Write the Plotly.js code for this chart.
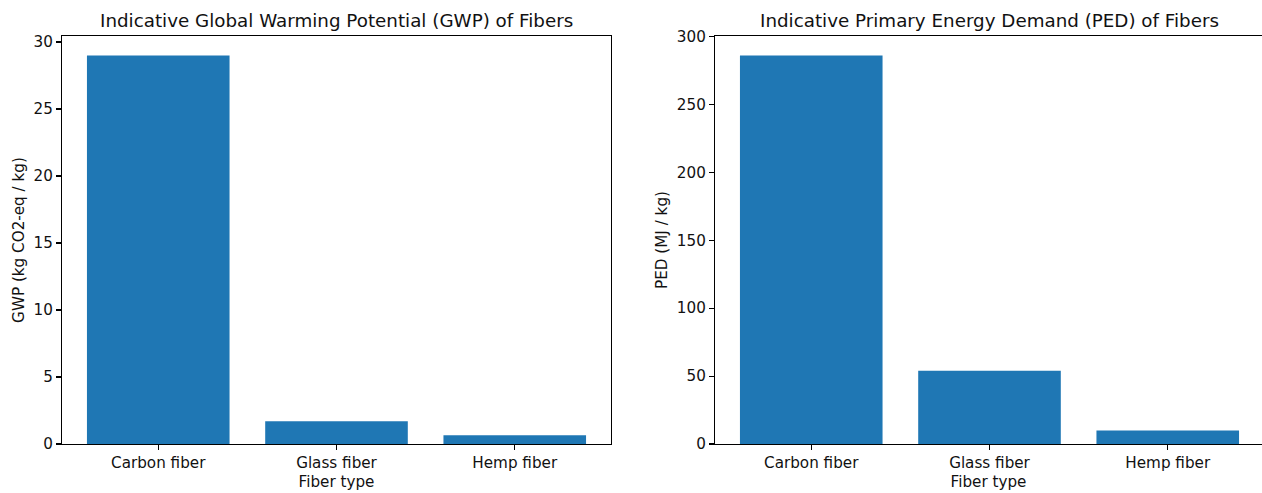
<!DOCTYPE html>
<html>
<head>
<meta charset="utf-8">
<script src="https://cdn.plot.ly/plotly-3.0.1.min.js"></script>
<style>html,body{margin:0;padding:0;background:#fff;}#chart{width:1262px;height:493px;}</style>
</head>
<body>
<div id="chart"></div>
<script>
const fiberTypes = ["Carbon fiber", "Glass fiber", "Hemp fiber"];
const gwpValues = [29.0, 1.7, 0.65];
const pedValues = [286, 54, 10];
const gwpTicks = [0, 5, 10, 15, 20, 25, 30];
const pedTicks = [0, 50, 100, 150, 200, 250, 300];

const W = 1262, H = 493;
const font = "DejaVu Sans, sans-serif";
const barColor = "#1f77b4";
const txt = "#111";
const fs = 15.2;

const traces = [
  {type: "bar", x: fiberTypes, y: gwpValues, width: 0.8, marker: {color: barColor}, xaxis: "x", yaxis: "y", hoverinfo: "x+y"},
  {type: "bar", x: fiberTypes, y: pedValues, width: 0.8, marker: {color: barColor}, xaxis: "x2", yaxis: "y2", hoverinfo: "x+y"}
];

const yDom = [1 - 444 / H, 1 - 36 / H];
const axCommon = {
  showline: true, linecolor: "#000", linewidth: 1.1,
  ticks: "outside", ticklen: 5, tickwidth: 1.1, tickcolor: "#000",
  showgrid: false, zeroline: false, fixedrange: true,
  tickfont: {family: font, size: fs, color: txt}
};

const layout = {
  width: W, height: H,
  margin: {l: 0, r: 0, t: 0, b: 0},
  paper_bgcolor: "#fff", plot_bgcolor: "#fff",
  showlegend: false,
  font: {family: font, color: txt},
  xaxis: Object.assign({}, axCommon, {
    domain: [62 / W, 611 / W], anchor: "y", type: "category",
    range: [-0.54, 2.54], mirror: true,
    title: {text: "Fiber type", font: {family: font, size: fs, color: txt}, standoff: 5}
  }),
  yaxis: Object.assign({}, axCommon, {
    domain: yDom, anchor: "x", range: [0, 30.45], tickvals: gwpTicks, mirror: true,
    title: {text: "GWP (kg CO2-eq / kg)", font: {family: font, size: fs, color: txt}, standoff: 5}
  }),
  xaxis2: Object.assign({}, axCommon, {
    domain: [715 / W, 1], anchor: "y2", type: "category",
    range: [-0.54, 2.54 - 3.08 * (2 / 549)], mirror: true,
    title: {text: "Fiber type", font: {family: font, size: fs, color: txt}, standoff: 5}
  }),
  yaxis2: Object.assign({}, axCommon, {
    domain: yDom, anchor: "x2", range: [0, 300.3], tickvals: pedTicks, mirror: false,
    title: {text: "PED (MJ / kg)", font: {family: font, size: fs, color: txt}, standoff: 5}
  }),
  annotations: [
    {text: "Indicative Global Warming Potential (GWP) of Fibers", xref: "paper", yref: "paper",
     x: 336.5 / W, y: 1 - 20 / H, xanchor: "center", yanchor: "middle", showarrow: false,
     font: {family: font, size: 18.3, color: txt}},
    {text: "Indicative Primary Energy Demand (PED) of Fibers", xref: "paper", yref: "paper",
     x: 989.5 / W, y: 1 - 20 / H, xanchor: "center", yanchor: "middle", showarrow: false,
     font: {family: font, size: 18.3, color: txt}}
  ]
};

Plotly.newPlot("chart", traces, layout, {displayModeBar: false, staticPlot: true});
</script>
</body>
</html>
